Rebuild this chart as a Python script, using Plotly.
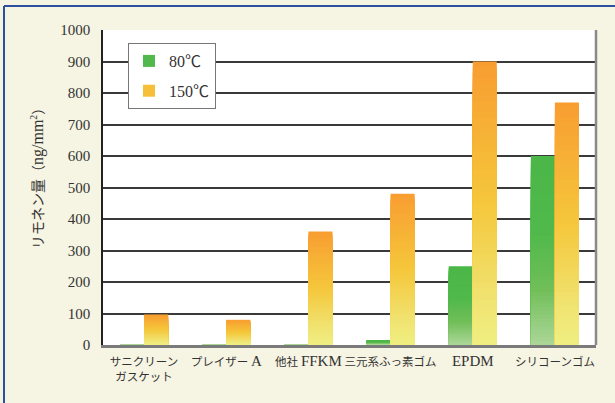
import re
import plotly.graph_objects as go

categories = ["サニクリーン<br>ガスケット", "プレイザー A", "他社 FFKM", "三元系ふっ素ゴム", "EPDM", "シリコーンゴム"]
vals_80 = [2, 2, 2, 15, 250, 600]
vals_150 = [97, 80, 360, 480, 900, 770]
series_names = ["80℃", "150℃"]
y_ticks = [0, 100, 200, 300, 400, 500, 600, 700, 800, 900, 1000]
y_title = "リモネン量（ng/mm<sup>2</sup>）"

# gradient stops: (fraction from bottom, rgb)
green_stops = [(0.0, (172, 215, 152)), (0.3, (112, 190, 88)), (0.6, (80, 185, 75)), (1.0, (75, 183, 72))]
orange_stops = [(0.0, (240, 239, 130)), (0.15, (240, 228, 115)), (0.5, (245, 199, 59)), (1.0, (248, 157, 49))]

def interp(stops, f):
    for (f0, c0), (f1, c1) in zip(stops[:-1], stops[1:]):
        if f <= f1:
            t = (f - f0) / (f1 - f0) if f1 > f0 else 0
            c = [round(a + (b - a) * t) for a, b in zip(c0, c1)]
            return f"rgb({c[0]},{c[1]},{c[2]})"
    c = stops[-1][1]
    return f"rgb({c[0]},{c[1]},{c[2]})"

def latin_big(s, size):
    return re.sub(r"(?<![<A-Za-z/])([A-Za-z/]+)(?![A-Za-z>])",
                  lambda m: f'<span style="font-size:{size}px">{m.group(1)}</span>', s)

N = 50
font_family = "Liberation Serif, Noto Sans CJK JP, serif"
fig = go.Figure()

for name, vals, stops, grp in [(series_names[0], vals_80, green_stops, "g80"),
                               (series_names[1], vals_150, orange_stops, "g150")]:
    for k in range(N):
        f_top = 1 - k / N
        fig.add_trace(go.Bar(
            x=categories,
            y=[v * f_top for v in vals],
            offsetgroup=grp,
            legendgroup=grp,
            name=name,
            showlegend=(k == int(N * 0.4)),
            marker=dict(color=interp(stops, f_top - 0.5 / N), line=dict(width=0)),
            hoverinfo="skip",
        ))

L, R, T, B = 103, 19, 30, 58
W, H = 615, 403
pw, ph = W - L - R, H - T - B

def px_x(px):
    return (px - L) / pw

def px_y(py):
    return (H - B - py) / ph

shapes = [
    dict(type="line", xref="paper", yref="paper", x0=px_x(4), x1=px_x(W + 5), y0=px_y(6), y1=px_y(6),
         line=dict(color="#2d4f9e", width=2)),
    dict(type="line", xref="paper", yref="paper", x0=px_x(4), x1=px_x(4), y0=px_y(6), y1=px_y(H + 5),
         line=dict(color="#2d4f9e", width=2)),
    dict(type="line", xref="paper", yref="paper", x0=1, x1=1, y0=0, y1=1,
         line=dict(color="#8a8a8a", width=2.5)),
]

fig.update_layout(
    width=W, height=H,
    margin=dict(l=L, r=R, t=T, b=B),
    paper_bgcolor="#f6f4e2",
    plot_bgcolor="#ffffff",
    barmode="group",
    bargap=0.415,
    bargroupgap=0,
    font=dict(family=font_family, color="#333333", size=13),
    shapes=shapes,
    showlegend=True,
    legend=dict(
        x=px_x(128), y=px_y(43), xanchor="left", yanchor="top",
        bgcolor="#ffffff", bordercolor="#777777", borderwidth=1,
        font=dict(size=16, family=font_family, color="#333333"),
        traceorder="grouped", tracegroupgap=6,
        itemwidth=30,
    ),
    annotations=[dict(
        text=latin_big(y_title, 16), textangle=-90, showarrow=False,
        xref="paper", yref="paper", x=px_x(37), y=px_y(175),
        xanchor="center", yanchor="middle",
        font=dict(size=14, family=font_family, color="#333333"),
    )],
)

fig.update_yaxes(
    range=[0, 1000],
    tickvals=y_ticks,
    ticktext=[str(t) for t in y_ticks],
    showgrid=True, gridcolor="#3a3a3a", gridwidth=1.5,
    showline=True, linecolor="#222222", linewidth=1.5,
    zeroline=False,
    ticks="", ticklabelstandoff=8,
    tickfont=dict(size=15, family=font_family, color="#333333"),
)
fig.update_xaxes(
    showline=True, linecolor="#7a7a7a", linewidth=2.5,
    ticks="", ticklabelstandoff=4,
    tickvals=categories,
    ticktext=[latin_big(c, 15) for c in categories],
    tickfont=dict(size=11.5, family=font_family, color="#333333"),
    tickangle=0,
)

fig.write_html(
    "out.html", config={"displayModeBar": False},
    post_script=(
        "document.body.style.margin='0';document.body.style.overflow='hidden';"
        "document.documentElement.style.outline='none';document.body.style.outline='none';"
        "document.body.style.border='none';"
    ),
)
